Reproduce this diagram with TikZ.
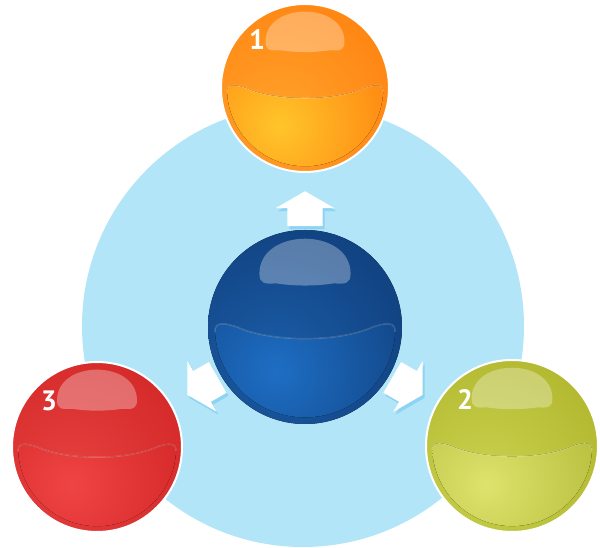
\documentclass[tikz,border=0pt]{standalone}
\usepackage{fontspec}
\setsansfont{PT Sans}
\usetikzlibrary{calc,shapes.arrows}
\definecolor{bgblue}{HTML}{B3E5F8}
\definecolor{arrsh}{HTML}{8DD3F2}
\definecolor{orA}{HTML}{FF6E00}\definecolor{orB}{HTML}{FFA22A}\definecolor{orC}{HTML}{FFC52A}\definecolor{orD}{HTML}{FF5A00}
\definecolor{blA}{HTML}{0A2C62}\definecolor{blB}{HTML}{1A5CA6}\definecolor{blC}{HTML}{1E6EC4}\definecolor{blD}{HTML}{0A2B5E}
\definecolor{rdA}{HTML}{C81818}\definecolor{rdB}{HTML}{E5403F}\definecolor{rdC}{HTML}{EF4444}\definecolor{rdD}{HTML}{C41515}
\definecolor{gnA}{HTML}{A0A61A}\definecolor{gnB}{HTML}{C9D04C}\definecolor{gnC}{HTML}{DDE36C}\definecolor{gnD}{HTML}{9EA41C}
\newcommand{\bandtop}{(-0.93,-0.05) .. controls (-0.93,0.05) and (-0.85,0.05) .. (-0.7,0) .. controls (-0.35,-0.16) and (0.35,-0.16) .. (0.7,0) .. controls (0.85,0.05) and (0.93,0.05) .. (0.93,-0.05)}
\newcommand{\bandpath}{\bandtop arc[start angle=-3,end angle=-177,radius=0.93] -- cycle}
\newcommand{\cappath}{(-0.47,0.55) .. controls (-0.47,1.03) and (0.47,1.03) .. (0.47,0.55) .. controls (0.47,0.45) and (0.42,0.44) .. (0.3,0.45) .. controls (0.1,0.42) and (-0.1,0.42) .. (-0.3,0.45) .. controls (-0.42,0.44) and (-0.47,0.45) .. cycle}
\begin{document}
\begin{tikzpicture}[x=1pt,y=1pt,
ball/.style n args={5}{circle,inner sep=0pt,minimum size=2*#1,path picture={
  \begin{scope}[shift={(path picture bounding box.center)},x=#1,y=#1]
  \fill[inner color=#3,outer color=#2] (-0.3,-0.35) circle (2.7);
  \begin{scope}\clip \bandpath; \fill[inner color=#4,outer color=#5] (-0.3,-0.45) circle (2.4);\end{scope}
  \draw[white,opacity=0.18,line width=1.4pt] \bandtop;
  \fill[white,opacity=0.3] \cappath;
  \end{scope}}},
rim/.style={draw=white,line width=2pt},
num/.style={font=\sffamily\bfseries\fontsize{28}{28}\selectfont,text=white,inner sep=0pt},
arr/.style={single arrow,fill=white,inner xsep=0pt,inner ysep=17.5pt,minimum width=0pt,minimum height=35pt,single arrow head extend=11.5pt,single arrow tip angle=120,anchor=tip}]
\useasboundingbox (0,0) rectangle (600,548);
\fill[bgblue] (303,222) circle (221);
\node[ball={97}{blA}{blB}{blC}{blD}] (hub) at (305,221) {};
\node[ball={84}{orA}{orB}{orC}{orD},rim] (one) at (305,460) {};
\node[ball={86}{gnA}{gnB}{gnC}{gnD},rim] (two) at (512,102) {};
\node[ball={85}{rdA}{rdB}{rdC}{rdD},rim] (three) at (97,101) {};
% numbers
\node[num] (n1) at (257,508) {1};
\node[num] (n2) at (465,148) {2};
\node[num] (n3) at (49,147) {3};
% arrows
\foreach \a/\nm in {90/a1,330/a2,210/a3}{
  \node[arr,fill=arrsh,rotate=\a] (\nm s) at ($(hub)+(\a:136)+(2,-3)$) {};
  \node[arr,rotate=\a] (\nm) at ($(hub)+(\a:136)$) {};
}
\end{tikzpicture}
\end{document}
